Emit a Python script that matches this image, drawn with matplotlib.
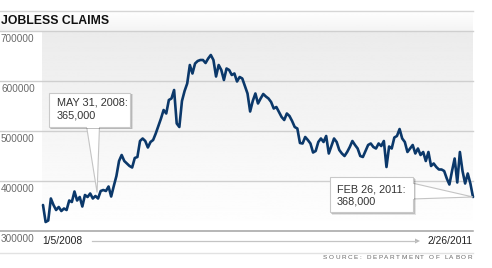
import matplotlib
matplotlib.use('Agg')
import matplotlib.pyplot as plt
import matplotlib.dates as mdates
import numpy as np
import pandas as pd
from matplotlib.patches import Rectangle, Polygon
from matplotlib.lines import Line2D

# ---------------- data ----------------
start_date = '2008-01-05'
claims_k = [
    352, 318, 321, 365, 352, 342, 348, 340, 345, 342,
    361, 358, 379, 361, 368, 349, 372, 368, 375, 365,
    370, 365, 380, 382, 380, 389, 369, 390, 410, 440,
    452, 440, 435, 430, 427, 446, 448, 480, 485, 480,
    467, 478, 482, 495, 510, 525, 542, 535, 562, 565,
    582, 515, 508, 560, 580, 595, 632, 615, 635, 640,
    642, 642, 636, 645, 652, 642, 609, 632, 622, 602,
    625, 622, 612, 615, 599, 608, 605, 590, 575, 539,
    560, 575, 555, 565, 574, 569, 565, 558, 545, 548,
    538, 528, 522, 535, 530, 520, 508, 505, 476, 475,
    488, 482, 475, 457, 460, 478, 485, 478, 490, 455,
    470, 485, 478, 462, 455, 450, 458, 468, 480, 472,
    465, 450, 448, 460, 472, 475, 468, 465, 475, 470,
    480, 428, 469, 465, 487, 490, 504, 485, 478, 458,
    465, 472, 455, 465, 452, 458, 440, 458, 430, 435,
    428, 423, 423, 420, 405, 393, 420, 445, 397, 458,
    420, 395, 415, 395, 368,
]
claims = [v * 1000 for v in claims_k]
y_ticks = [300000, 400000, 500000, 600000, 700000]
y_tick_labels = ['300000', '400000', '500000', '600000', '700000']
title = 'JOBLESS CLAIMS'
start_label = '1/5/2008'
end_label = '2/26/2011'
source = 'SOURCE: DEPARTMENT OF LABOR'
callout_dates = ['2008-05-31', '2011-02-26']
callout_texts = ['MAY 31, 2008:\n365,000', 'FEB 26, 2011:\n368,000']

dates = pd.date_range(start_date, periods=len(claims), freq='7D')

# ---------------- figure ----------------
W, H = 492, 268
plt.rcParams['font.family'] = ['Liberation Sans', 'DejaVu Sans']
fig = plt.figure(figsize=(W / 100, H / 100), dpi=100)
fig.patch.set_facecolor('white')

def fx(x):
    return x / W

def fy(y):
    return 1 - y / H

# header band gradient
hdr = fig.add_axes([0, fy(31), fx(473), (31 - 11) / H], zorder=0)
hdr.imshow(np.linspace(1.0, 0.955, 64).reshape(-1, 1), cmap='gray', vmin=0, vmax=1,
           aspect='auto', extent=[0, 1, 0, 1])
hdr.axis('off')

# plot background gradient
bg = fig.add_axes([fx(42), fy(230), fx(473) - fx(42), (230 - 31) / H], zorder=0)
g = np.linspace(0.922, 1.0, 256).reshape(-1, 1)
bg.imshow(g, cmap='gray', vmin=0, vmax=1, aspect='auto', extent=[0, 1, 0, 1])
bg.axis('off')

# horizontal rules / gridlines in figure pixels
def hline(y, color, lw=1.0, x0=0, x1=473):
    fig.add_artist(Line2D([fx(x0), fx(x1)], [fy(y), fy(y)], transform=fig.transFigure,
                          color=color, lw=lw, zorder=1))

hline(11, '#d6d6d6')
for yy in (31, 81, 131, 181):
    hline(yy, '#cfcfcf')
hline(230.5, '#a3a3a3', lw=1.1)
hline(253, '#e2e2e2')

# data axes
ax = fig.add_axes([fx(43), fy(231), fx(473) - fx(43), (231 - 31) / H], zorder=2)
ax.set_facecolor('none')
ax.plot(dates, claims, color='#0b386a', lw=1.9, solid_joinstyle='round',
        solid_capstyle='round', zorder=3, clip_on=False)
ax.set_xlim(dates[0], dates[-1])
ax.set_ylim(y_ticks[0], y_ticks[-1])
ax.axis('off')

# title
fig.text(fx(1), fy(20.5), title, fontsize=8.8, fontweight='bold', color='#111111',
         va='center', ha='left')

# y tick labels (below their gridlines)
for v, lab in zip(y_ticks, y_tick_labels):
    ypix = 231 - (v - y_ticks[0]) / 2000.0
    fig.text(fx(1), fy(ypix + 8), lab, fontsize=7.2, color='#6a6a6a', va='center', ha='left')

# bottom date range
fig.text(fx(42.5), fy(241), start_label, fontsize=7.4, color='#222222', va='center', ha='left')
fig.text(fx(473), fy(241), end_label, fontsize=7.4, color='#222222', va='center', ha='right')
fig.add_artist(Line2D([fx(92), fx(416)], [fy(241), fy(241)], transform=fig.transFigure,
                      color='#c4c4c4', lw=0.9))
fig.add_artist(Polygon([[fx(415), fy(238.5)], [fx(420), fy(241)], [fx(415), fy(243.5)]],
                       closed=True, transform=fig.transFigure, facecolor='#b8b8b8',
                       edgecolor='none'))

# letter-spaced source line
renderer = fig.canvas.get_renderer()
from matplotlib.font_manager import FontProperties
fp = FontProperties(family=['Liberation Sans'], size=4.6)
widths = []
for ch in source:
    if ch == ' ':
        widths.append(0.278 * 4.6 * 100 / 72)
    else:
        w, h, d = renderer.get_text_width_height_descent(ch, fp, ismath=False)
        widths.append(w)
x_left, x_right = 323.0, 472.0
gap = (x_right - x_left - sum(widths)) / (len(source) - 1)
xc = x_left
for ch, w in zip(source, widths):
    if ch != ' ':
        fig.text(fx(xc), fy(257.5), ch, fontproperties=fp, color='#666666',
                 va='center', ha='left')
    xc += w + gap

# callouts
def data_px(date, value):
    dx, dy = ax.transData.transform((mdates.date2num(pd.Timestamp(date)), value))
    return dx, H - dy

def box(x0, y0, x1, y1, z=5):
    # shadow
    for off, a in ((2.5, 0.10), (1.5, 0.16)):
        fig.add_artist(Rectangle((fx(x0 + off - 0.5), fy(y1 + off)), fx(x1 - x0 + 1), (y1 - y0 + 1) / H,
                                 transform=fig.transFigure, facecolor='black', alpha=a,
                                 edgecolor='none', zorder=z))
    fig.add_artist(Rectangle((fx(x0), fy(y1)), fx(x1 - x0), (y1 - y0) / H,
                             transform=fig.transFigure, facecolor='white',
                             edgecolor='#c9c9c9', lw=0.8, zorder=z + 2))

# callout 1 (pointer down to May 31, 2008)
i1 = list(dates).index(pd.Timestamp(callout_dates[0]))
px1, py1 = data_px(dates[i1], claims[i1])
fig.add_artist(Polygon([[fx(86.5), fy(126)], [fx(px1 - 1), fy(py1 - 6)], [fx(99.5), fy(126)]],
                       closed=True, transform=fig.transFigure, facecolor='white',
                       edgecolor='#c4c4c4', lw=0.8, zorder=5))
box(49, 93, 130, 127, z=5)
fig.add_artist(Rectangle((fx(87), fy(127.6)), fx(12), 1.6 / H, transform=fig.transFigure,
                         facecolor='white', edgecolor='none', zorder=8))
l1, l2 = callout_texts[0].split('\n')
fig.text(fx(57), fy(103), l1, fontsize=7.8, color='#333333', va='center', ha='left', zorder=9)
fig.text(fx(57), fy(116), l2, fontsize=7.8, color='#333333', va='center', ha='left', zorder=9)

# callout 2 (pointer right to Feb 26, 2011)
i2 = list(dates).index(pd.Timestamp(callout_dates[1]))
px2, py2 = data_px(dates[i2], claims[i2])
fig.add_artist(Polygon([[fx(412), fy(183)], [fx(px2), fy(py2)], [fx(412), fy(199)]],
                       closed=True, transform=fig.transFigure, facecolor='white',
                       edgecolor='#c4c4c4', lw=0.8, zorder=5))
box(330, 177, 413, 212, z=5)
fig.add_artist(Rectangle((fx(412), fy(198.5)), fx(2), 15 / H, transform=fig.transFigure,
                         facecolor='white', edgecolor='none', zorder=8))
l1, l2 = callout_texts[1].split('\n')
fig.text(fx(337), fy(189.5), l1, fontsize=7.8, color='#333333', va='center', ha='left', zorder=9)
fig.text(fx(337), fy(202), l2, fontsize=7.8, color='#333333', va='center', ha='left', zorder=9)

fig.savefig('out.png', dpi=100)
